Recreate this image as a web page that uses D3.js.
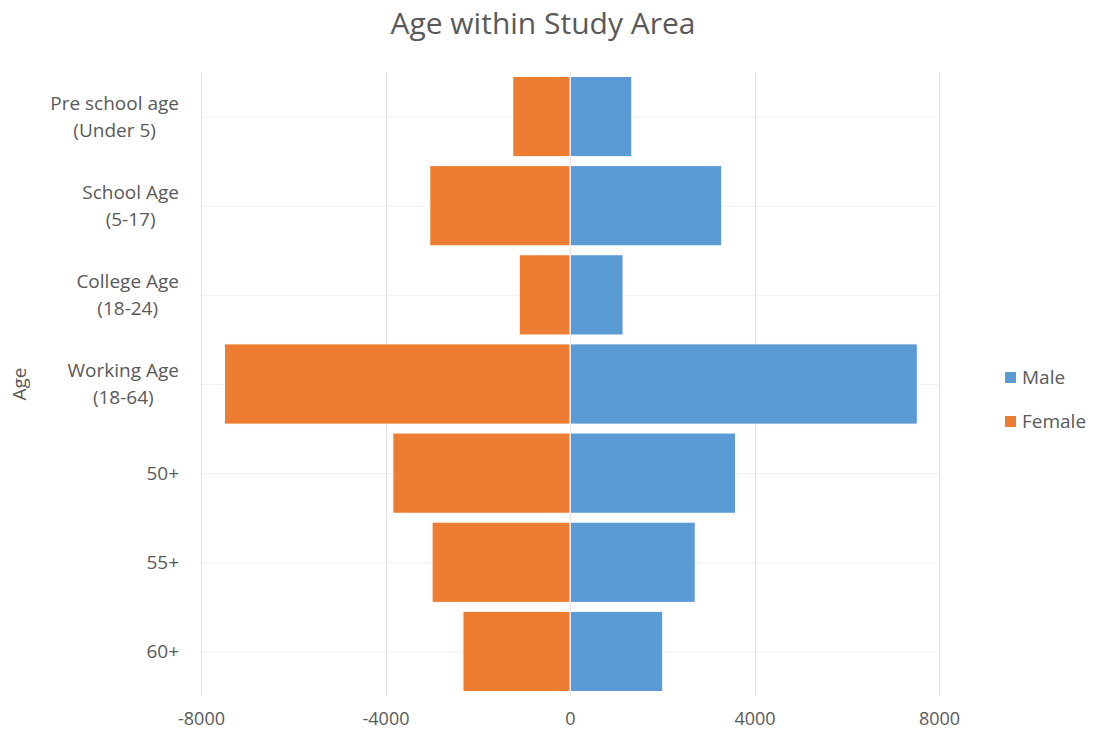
<!DOCTYPE html>
<html>
<head>
<meta charset="utf-8">
<script src="https://cdn.jsdelivr.net/npm/d3@7"></script>
<style>
  html, body { margin: 0; padding: 0; background: #fff; }
  svg { display: block; font-family: "Open Sans", sans-serif; }
</style>
</head>
<body>
<div id="chart"></div>
<script>
const categories = [
  ["Pre school age", "(Under 5)"],
  ["School Age", "(5-17)"],
  ["College Age", "(18-24)"],
  ["Working Age", "(18-64)"],
  ["50+"],
  ["55+"],
  ["60+"],
];
const maleValues = [1340, 3290, 1150, 7530, 3590, 2715, 2010];
const femaleValues = [-1240, -3040, -1100, -7490, -3840, -2990, -2320];
const xTicks = [-8000, -4000, 0, 4000, 8000];
const seriesNames = ["Male", "Female"];

const width = 1097;
const height = 740;
const textColor = "#595959";
const colors = { Male: "#5B9BD5", Female: "#ED7D31" };

const keys = categories.map((c) => c.join(" "));
const rows = keys.map((key, i) => ({ key, lines: categories[i], Male: maleValues[i], Female: femaleValues[i] }));

const svg = d3.select("#chart").append("svg").attr("width", width).attr("height", height);

const x = d3.scaleLinear().domain([-8000, 8000]).range([201, 939]);
const y = d3.scaleBand().domain(keys).range([72, 696]).paddingInner(0.1).paddingOuter(0.05);

// title
svg.append("text")
  .attr("x", 543).attr("y", 34)
  .attr("text-anchor", "middle")
  .attr("fill", textColor)
  .style("font-size", "30px")
  .text("Age within Study Area");

// gridlines
const grid = svg.append("g");
grid.selectAll("line.h")
  .data(keys)
  .join("line")
  .attr("class", "h")
  .attr("x1", x(-8000)).attr("x2", x(8000))
  .attr("y1", (d) => y(d) + y.bandwidth() / 2 + 0.5)
  .attr("y2", (d) => y(d) + y.bandwidth() / 2 + 0.5)
  .attr("stroke", "#f0f0f0");
grid.selectAll("line.v")
  .data(xTicks)
  .join("line")
  .attr("class", "v")
  .attr("x1", (d) => Math.round(x(d)) + 0.5).attr("x2", (d) => Math.round(x(d)) + 0.5)
  .attr("y1", 72).attr("y2", 696)
  .attr("stroke", "#e3e3e3");

// bars
seriesNames.forEach((name) => {
  svg.append("g")
    .selectAll("rect")
    .data(rows)
    .join("rect")
    .attr("x", (d) => x(Math.min(0, d[name])))
    .attr("y", (d) => y(d.key))
    .attr("width", (d) => Math.abs(x(d[name]) - x(0)))
    .attr("height", y.bandwidth())
    .attr("fill", colors[name])
    .attr("stroke", "#fff")
    .attr("stroke-width", 1);
});

// y axis labels: each block right-aligned, lines centred within the block
const labelRight = 179;
const yLabels = svg.append("g")
  .attr("fill", textColor)
  .style("font-size", "19px");
rows.forEach((d) => {
  const cy = y(d.key) + y.bandwidth() / 2;
  const t = yLabels.append("text");
  if (d.lines.length === 1) {
    t.attr("x", labelRight).attr("y", cy + 7).attr("text-anchor", "end").text(d.lines[0]);
  } else {
    const a = t.append("tspan").attr("y", cy - 7).text(d.lines[0]);
    const b = t.append("tspan").attr("y", cy + 20).text(d.lines[1]);
    const w = Math.max(a.node().getComputedTextLength(), b.node().getComputedTextLength());
    const mid = labelRight - w / 2;
    t.attr("text-anchor", "middle");
    a.attr("x", mid);
    b.attr("x", mid);
  }
});

// x axis
const xAxis = svg.append("g")
  .attr("transform", "translate(0,696)")
  .call(d3.axisBottom(x).tickValues(xTicks).tickSize(0).tickPadding(16).tickFormat((d) => String(d)));
xAxis.select(".domain").remove();
xAxis.selectAll("text").attr("fill", textColor).style("font-size", "18px").style("font-family", "Open Sans, sans-serif");

// axis title
svg.append("text")
  .attr("transform", "translate(26,384) rotate(-90)")
  .attr("text-anchor", "middle")
  .attr("fill", textColor)
  .style("font-size", "19px")
  .text("Age");

// legend
const legend = svg.append("g");
seriesNames.forEach((name, i) => {
  const g = legend.append("g").attr("transform", `translate(1005,${372 + i * 44})`);
  g.append("rect").attr("width", 11).attr("height", 11).attr("fill", colors[name]);
  g.append("text")
    .attr("x", 17).attr("y", 12)
    .attr("fill", textColor)
    .style("font-size", "19px")
    .text(name);
});
</script>
</body>
</html>
